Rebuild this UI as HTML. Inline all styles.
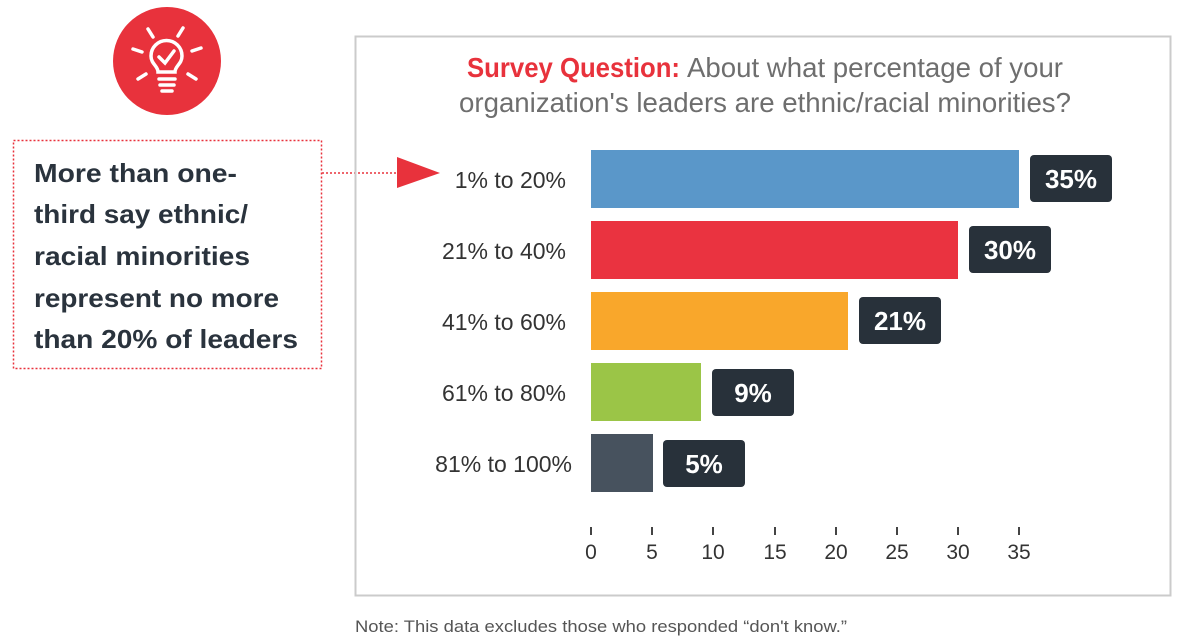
<!DOCTYPE html>
<html><head><meta charset="utf-8"><style>
html,body{margin:0;padding:0;background:#fff;}
svg{display:block;}
text{font-family:"Liberation Sans",Arial,sans-serif;}
</style></head><body>
<svg width="1200" height="640" viewBox="0 0 1200 640" xmlns="http://www.w3.org/2000/svg">
<rect width="1200" height="640" fill="#fff"/>
<!-- icon -->
<circle cx="167" cy="61" r="54" fill="#e8323c"/>
<g stroke="#fff" stroke-width="3.5" stroke-linecap="round" fill="none">
  <path d="M158 72 C158 66 151 64 151 56 A15.5 15.5 0 1 1 182 56 C182 64 175 66 175 72 Z"/>
  <polyline points="159,57 165,63 174,51"/>
  <line x1="159" y1="79" x2="175" y2="79"/>
  <line x1="160" y1="85" x2="174" y2="85"/>
  <line x1="162" y1="91" x2="172" y2="91"/>
  <line x1="148" y1="29" x2="153" y2="37"/>
  <line x1="183" y1="28" x2="178" y2="36"/>
  <line x1="133" y1="49" x2="142" y2="52"/>
  <line x1="201" y1="48" x2="192" y2="51"/>
  <line x1="138" y1="79" x2="146" y2="74"/>
  <line x1="196" y1="79" x2="188" y2="74"/>
</g>
<!-- callout box -->
<rect x="13.5" y="140.5" width="308" height="228" fill="none" stroke="#e8323c" stroke-width="1.5" stroke-dasharray="2 2"/>
<g fill="#2a333d" font-weight="bold" font-size="26">
  <text x="34" y="182" textLength="203" lengthAdjust="spacingAndGlyphs">More than one-</text>
  <text x="34" y="223" textLength="214" lengthAdjust="spacingAndGlyphs">third say ethnic/</text>
  <text x="34" y="265" textLength="216" lengthAdjust="spacingAndGlyphs">racial minorities</text>
  <text x="34" y="307" textLength="245" lengthAdjust="spacingAndGlyphs">represent no more</text>
  <text x="34" y="348" textLength="264" lengthAdjust="spacingAndGlyphs">than 20% of leaders</text>
</g>
<line x1="322" y1="173" x2="396" y2="173" stroke="#e8323c" stroke-width="1.5" stroke-dasharray="2 2"/>
<polygon points="397,157 440,173 397,188" fill="#e8323c"/>
<!-- panel -->
<rect x="355.5" y="36.5" width="815" height="559" fill="none" stroke="#cbcbcb" stroke-width="2"/>
<text x="467" y="77" font-size="28" font-weight="bold" fill="#e8323c" textLength="213" lengthAdjust="spacingAndGlyphs">Survey Question:</text>
<text x="687" y="77" font-size="28" fill="#6e6e6e" textLength="376" lengthAdjust="spacingAndGlyphs">About what percentage of your</text>
<text x="459" y="112" font-size="28" fill="#6e6e6e" textLength="612" lengthAdjust="spacingAndGlyphs">organization's leaders are ethnic/racial minorities?</text>
<!-- bars -->
<rect x="591" y="150" width="428" height="58" fill="#5a97c9"/>
<rect x="591" y="221" width="367" height="58" fill="#ea3340"/>
<rect x="591" y="292" width="257" height="58" fill="#f9a72b"/>
<rect x="591" y="363" width="110" height="58" fill="#9bc547"/>
<rect x="591" y="434" width="62" height="58" fill="#47525e"/>
<!-- value boxes -->
<g fill="#28313a">
  <rect x="1030" y="155" width="82" height="47" rx="4"/>
  <rect x="969" y="226" width="82" height="47" rx="4"/>
  <rect x="859" y="297" width="82" height="47" rx="4"/>
  <rect x="712" y="369" width="82" height="47" rx="4"/>
  <rect x="663" y="440" width="82" height="47" rx="4"/>
</g>
<g fill="#fff" font-size="26" font-weight="bold" text-anchor="middle">
  <text x="1071" y="188">35%</text>
  <text x="1010" y="259">30%</text>
  <text x="900" y="330">21%</text>
  <text x="753" y="402">9%</text>
  <text x="704" y="473">5%</text>
</g>
<!-- category labels -->
<g fill="#333" font-size="23" text-anchor="end">
  <text x="566" y="188">1% to 20%</text>
  <text x="566" y="259">21% to 40%</text>
  <text x="566" y="330">41% to 60%</text>
  <text x="566" y="401">61% to 80%</text>
  <text x="572" y="472">81% to 100%</text>
</g>
<!-- axis ticks -->
<g stroke="#444" stroke-width="2">
  <line x1="591" y1="527" x2="591" y2="535"/>
  <line x1="652" y1="527" x2="652" y2="535"/>
  <line x1="713" y1="527" x2="713" y2="535"/>
  <line x1="775" y1="527" x2="775" y2="535"/>
  <line x1="836" y1="527" x2="836" y2="535"/>
  <line x1="897" y1="527" x2="897" y2="535"/>
  <line x1="958" y1="527" x2="958" y2="535"/>
  <line x1="1019" y1="527" x2="1019" y2="535"/>
</g>
<g fill="#333" font-size="21" text-anchor="middle">
  <text x="591" y="559">0</text>
  <text x="652" y="559">5</text>
  <text x="713" y="559">10</text>
  <text x="775" y="559">15</text>
  <text x="836" y="559">20</text>
  <text x="897" y="559">25</text>
  <text x="958" y="559">30</text>
  <text x="1019" y="559">35</text>
</g>
<text x="355" y="632" font-size="17" fill="#555" textLength="492" lengthAdjust="spacingAndGlyphs">Note: This data excludes those who responded “don't know.”</text>
</svg>
</body></html>
